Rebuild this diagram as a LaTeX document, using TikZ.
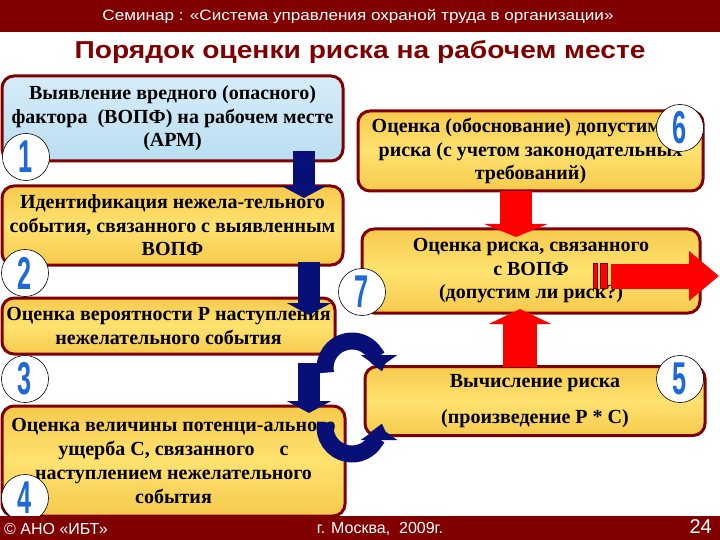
\documentclass[tikz,border=0pt]{standalone}
\usepackage{fontspec}
\usepackage{graphicx}
\setmainfont{Liberation Serif}
\setsansfont{Liberation Sans}
\usetikzlibrary{arrows.meta,calc}
\definecolor{bordo}{RGB}{128,0,0}
\definecolor{navyarr}{RGB}{8,16,120}
\definecolor{digitblue}{RGB}{30,105,215}
\definecolor{yellowA}{RGB}{245,202,76}
\definecolor{yellowB}{RGB}{255,226,112}
\definecolor{blueA}{RGB}{214,236,248}
\definecolor{blueB}{RGB}{186,222,242}
\newcommand{\numdig}[1]{\scalebox{0.55}[1]{#1}}
\newcommand{\wider}[2]{\scalebox{#1}[1]{#2}}
\tikzset{
  box/.style={draw=bordo, line width=3pt, rounded corners=12pt, align=center,
    inner sep=0pt, outer sep=0pt, text=black,
    font=\bfseries\fontsize{20}{23.5}\selectfont},
  ybox/.style={box, top color=yellowA, bottom color=yellowA, middle color=yellowB},
  bbox/.style={box, top color=blueA, bottom color=blueB},
  numcirc/.style={circle, draw=black, line width=0.6pt, fill=white,
    minimum size=47pt, inner sep=0pt, text=digitblue,
    font=\sffamily\bfseries\fontsize{46}{46}\selectfont},
  bluearr/.style={draw=navyarr, line width=22pt, -{Triangle[length=12pt,width=44pt]}},
  bluecirc/.style={draw=navyarr, line width=17pt, -{Triangle[length=13pt,width=36pt]}},
  redarr/.style={draw=red, line width=32pt, -{Triangle[length=13pt,width=63pt]}},
  foottext/.style={text=white, inner sep=1pt, font=\sffamily\fontsize{16}{16}\selectfont}
}
\begin{document}
\begin{tikzpicture}[x=1pt,y=1pt,yscale=-1,xscale=1]
\useasboundingbox (0,0) rectangle (720,540);

%Header bar
\fill[bordo] (0,0) rectangle (720,32);
\node[text=white, font=\sffamily\fontsize{15}{15}\selectfont] (hdr) at (358,16) {\wider{1.14}{Семинар : «Система управления охраной труда в организации»}};
% Title
\node[text=bordo, font=\sffamily\bfseries\fontsize{24.5}{24.5}\selectfont] (ttl) at (360,52) {\wider{1.15}{Порядок оценки риска на рабочем месте}};

%Left column boxes
\node[bbox, minimum width=341, minimum height=85] (b1) at (172.5,118.5) {Выявление вредного (опасного)\\фактора \ (ВОПФ) на рабочем месте\\(АРМ)};
\node[ybox, minimum width=341, minimum height=79] (b2) at (172.5,225.5) {Идентификация нежела-тельного\\события, связанного с выявленным\\ВОПФ};
\node[ybox, minimum width=333, minimum height=56] (b3) at (168.5,326) {Оценка вероятности Р наступления\\нежелательного события};
\node[ybox, minimum width=343, minimum height=110, font=\bfseries\fontsize{20}{24.3}\selectfont] (b4) at (173.5,461) {Оценка величины потенци-ального\\ущерба С, связанного \quad с\\наступлением нежелательного\\события};

%Right column boxes
\node[ybox, minimum width=345, minimum height=80] (b6) at (530.5,151) {Оценка (обоснование) допустимого\\риска (с учетом законодательных\\требований)};
\node[ybox, minimum width=338, minimum height=84] (b7) at (531,271) {Оценка риска, связанного\\с ВОПФ\\(допустим ли риск?)};
\node[ybox, minimum width=340, minimum height=69] (b5) at (535,401) {Вычисление риска\\[13pt](произведение Р * С)};

%Blue arrows down
\draw[bluearr, shorten <=-10pt, shorten >=-12pt] (b1.south -| 304,0) -- (b2.north -| 304,0);
\draw[bluearr, shorten <=-3pt, shorten >=-17pt] (b2.south -| 309,0) -- (b3.north -| 309,0);
\draw[bluearr, shorten <=9pt, shorten >=-7pt] (b3.south -| 309,0) -- (b4.north -| 309,0);

%Circular arrows
\draw[bluecirc] ([shift={(170:27)}]352,368) arc (170:360:27);
\draw[bluecirc] ([shift={(190:27)}]352,427) arc (190:0:27);

%Red arrows
\draw[redarr, shorten >=-8pt] (b6.south -| 516,0) -- (b7.north -| 516,0);
\draw[redarr, line width=34pt, -{Triangle[length=15pt,width=62pt]}, shorten >=-4pt] (b5.north -| 520,0) -- (b7.south -| 520,0);
\coordinate (out7) at (719,276);
\draw[redarr, line width=25pt, -{Triangle[length=30pt,width=48pt]}] ($(b7.east |- 0,276)+(-89,0)$) -- (out7);
\draw[fill=red, draw=bordo, line width=0.8pt] (593,263.5) rectangle (597,288.5) (600,263.5) rectangle (607,288.5);

%Number circles
\node[numcirc] (n1) at (26,157) {\numdig{1}};
\node[numcirc] (n2) at (25,273) {\numdig{2}};
\node[numcirc] (n3) at (25,379) {\numdig{3}};
\node[numcirc] (n4) at (25,498) {\numdig{4}};
\node[numcirc] (n5) at (680,379) {\numdig{5}};
\node[numcirc] (n6) at (680,128) {\numdig{6}};
\node[numcirc] (n7) at (362,292) {\numdig{7}};

%Footer bar
\fill[bordo] (0,516) rectangle (720,540);
\node[foottext, anchor=west] (ft1) at (3,529) {© АНО «ИБТ»};
\node[foottext] (ft2) at (380,529) {г. Москва, \ 2009г.};
\node[foottext, anchor=east, font=\sffamily\fontsize{20}{20}\selectfont] (ft3) at (713,527) {24};
\end{tikzpicture}
\end{document}
